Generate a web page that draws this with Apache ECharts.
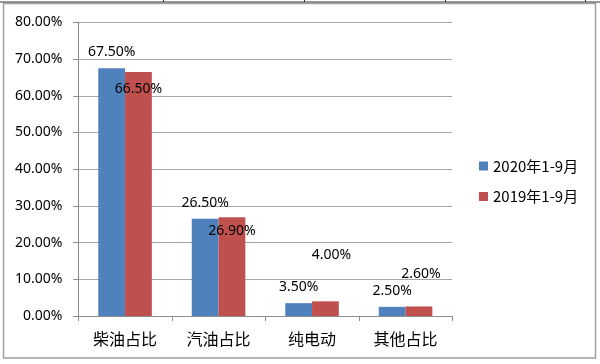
<!DOCTYPE html>
<html><head><meta charset="utf-8">
<script src="https://cdn.jsdelivr.net/npm/echarts@6/dist/echarts.min.js"></script>
<style>html,body{margin:0;padding:0;background:#fff}#c{width:600px;height:364px}</style>
</head><body><div id="c"></div>
<script>
const categories = ['柴油占比', '汽油占比', '纯电动', '其他占比'];
const seriesNames = ['2020年1-9月', '2019年1-9月'];
const values2020 = [67.5, 26.5, 3.5, 2.5];
const values2019 = [66.5, 26.9, 4.0, 2.6];
const yTickMin = 0, yTickMax = 80, yTickStep = 10;
// label placement tweaks (styling only) for the 2019 series
const labelOffsets2019 = [[0, 32.6], [0, 29.4], [6, -30], [2, -16.4]];

const numFont = '"Noto Sans", "Open Sans", sans-serif';
const cjkFont = '"Noto Sans CJK SC", "Noto Sans", sans-serif';
const pct = v => Number(v).toFixed(2) + '%';

const chart = echarts.init(document.getElementById('c'), null, {renderer: 'canvas'});
chart.setOption({
  animation: false,
  backgroundColor: '#fff',
  color: ['#4F81BD', '#C0504D'],
  graphic: [
    {type: 'rect', shape: {x: 3.5, y: 3.5, width: 592, height: 354.5}, style: {fill: 'none', stroke: '#a0a0a0', lineWidth: 1.5}, silent: true},
    {type: 'line', shape: {x1: 0, y1: 2, x2: 600, y2: 2}, style: {stroke: '#333', lineWidth: 1}, silent: true},
    {type: 'line', shape: {x1: 163.5, y1: 0, x2: 163.5, y2: 2}, style: {stroke: '#333', lineWidth: 1}, silent: true},
    {type: 'line', shape: {x1: 304.5, y1: 0, x2: 304.5, y2: 2}, style: {stroke: '#333', lineWidth: 1}, silent: true},
    {type: 'line', shape: {x1: 445.5, y1: 0, x2: 445.5, y2: 2}, style: {stroke: '#333', lineWidth: 1}, silent: true},
    {type: 'line', shape: {x1: 585.5, y1: 0, x2: 585.5, y2: 2}, style: {stroke: '#333', lineWidth: 1}, silent: true}
  ],
  grid: {left: 78.3, right: 147.7, top: 22.4, bottom: 48, containLabel: false},
  legend: {
    orient: 'vertical', left: 474, top: 153.5, itemWidth: 9, itemHeight: 9, itemGap: 15.5,
    icon: 'rect', data: seriesNames,
    textStyle: {fontSize: 15, color: '#000', fontFamily: cjkFont}
  },
  xAxis: {
    type: 'category', data: categories,
    axisLine: {lineStyle: {color: '#8c8c8c', width: 1}},
    axisTick: {show: true, length: 5, alignWithLabel: false, lineStyle: {color: '#8c8c8c'}},
    axisLabel: {fontSize: 16, color: '#000', fontFamily: cjkFont, margin: 15}
  },
  yAxis: {
    type: 'value', min: yTickMin, max: yTickMax, interval: yTickStep,
    axisLine: {show: true, lineStyle: {color: '#8c8c8c', width: 1}},
    axisTick: {show: true, length: 5, lineStyle: {color: '#8c8c8c'}},
    splitLine: {lineStyle: {color: '#a6a6a6', width: 1}},
    axisLabel: {fontSize: 14, color: '#000', fontFamily: numFont, margin: 16, formatter: pct}
  },
  series: [
    {
      name: seriesNames[0], type: 'bar', data: values2020,
      barGap: '0%', barCategoryGap: '42.7%',
      label: {show: true, position: 'top', distance: 9, fontSize: 14, color: '#000', fontFamily: numFont, formatter: p => pct(p.value)}
    },
    {
      name: seriesNames[1], type: 'bar',
      data: values2019.map((v, i) => ({value: v, label: {offset: labelOffsets2019[i]}})),
      barGap: '0%', barCategoryGap: '42.7%',
      label: {show: true, position: 'top', distance: 9, fontSize: 14, color: '#000', fontFamily: numFont, formatter: p => pct(p.value)}
    }
  ]
});
</script>
</body></html>
